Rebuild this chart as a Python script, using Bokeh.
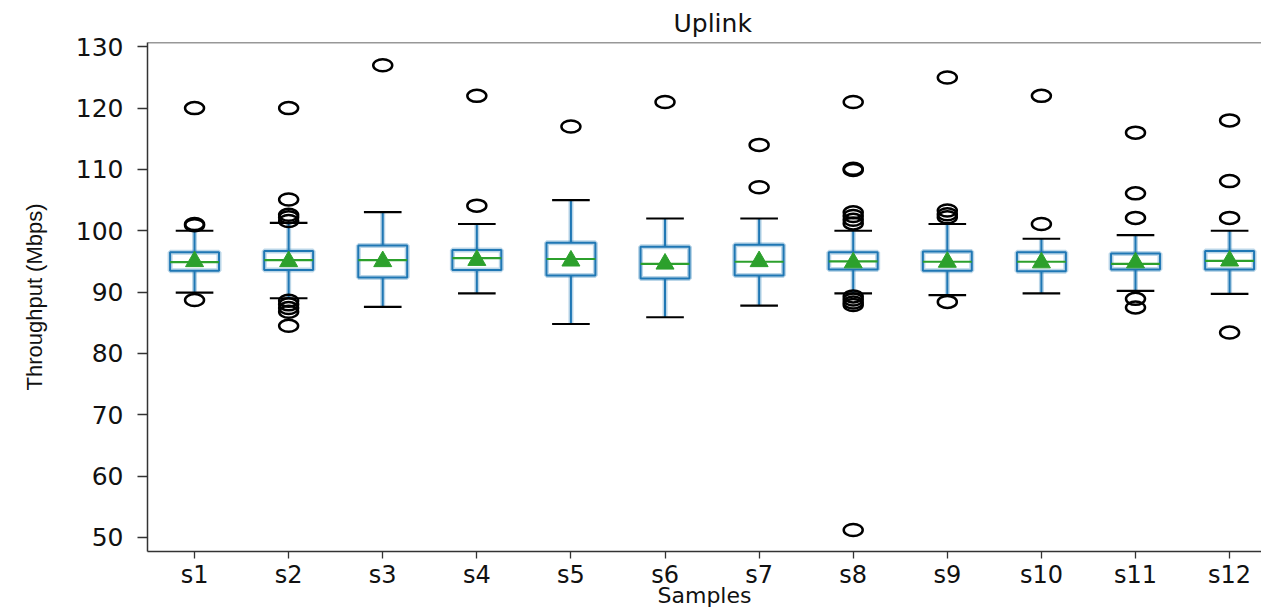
from bokeh.plotting import figure
from bokeh.models import FixedTicker, Span, ColumnDataSource
from bokeh.embed import file_html
from bokeh.resources import INLINE

# ---------------- data ----------------
categories = ["s1", "s2", "s3", "s4", "s5", "s6", "s7", "s8", "s9", "s10", "s11", "s12"]
q1 = [93.5, 93.6, 92.4, 93.6, 92.7, 92.2, 92.7, 93.7, 93.5, 93.4, 93.7, 93.7]
q3 = [96.5, 96.7, 97.6, 96.85, 98.05, 97.4, 97.7, 96.5, 96.6, 96.5, 96.3, 96.7]
medians = [94.9, 95.2, 95.2, 95.55, 95.4, 94.6, 94.95, 95.0, 94.95, 94.95, 94.6, 95.1]
means = [95.0, 95.0, 95.0, 95.2, 95.1, 94.6, 95.0, 94.8, 94.9, 94.8, 94.8, 95.1]
whisker_low = [89.9, 89.0, 87.6, 89.8, 84.8, 85.9, 87.8, 89.8, 89.5, 89.8, 90.2, 89.7]
whisker_high = [100.0, 101.3, 103.05, 101.1, 105.0, 102.0, 102.0, 100.0, 101.1, 98.7, 99.3, 100.0]
outliers = [
    [120, 101.1, 100.9, 88.7],
    [120, 105.1, 102.6, 102.2, 101.6, 88.6, 88.0, 87.4, 86.8, 84.5],
    [127],
    [122, 104.1],
    [117],
    [121],
    [114, 107.1],
    [121, 110.1, 109.9, 103.0, 102.4, 101.8, 101.2, 89.3, 88.8, 88.3, 87.9, 51.2],
    [125, 103.3, 102.7, 102.2, 88.4],
    [122, 101.1],
    [116, 106.1, 102.1, 88.9, 87.5],
    [118, 108.1, 102.1, 83.4],
]
y_ticks = [50, 60, 70, 80, 90, 100, 110, 120, 130]
title_text = "Uplink"
x_label = "Samples"
y_label = "Throughput (Mbps)"

# ---------------- derived sources ----------------
BLUE = "#1f77b4"
GREEN = "#2ca02c"
BOX_HALF = 0.26
CAP_HALF = 0.20

xs = list(range(1, len(categories) + 1))
src = ColumnDataSource(dict(
    x=xs,
    left=[x - BOX_HALF for x in xs],
    right=[x + BOX_HALF for x in xs],
    cap_l=[x - CAP_HALF for x in xs],
    cap_r=[x + CAP_HALF for x in xs],
    q1=q1, q3=q3, med=medians, mean=means, lo=whisker_low, hi=whisker_high,
))
ox, oy = [], []
for x, vals in zip(xs, outliers):
    for v in vals:
        ox.append(x)
        oy.append(v)

Y_START, Y_END = 47.7, 130.7
X_START, X_END = 0.5, 12.339

p = figure(width=1261, height=610, output_backend="svg", toolbar_location=None,
           x_range=(X_START, X_END), y_range=(Y_START, Y_END),
           min_border_left=147, min_border_right=0, min_border_top=42, min_border_bottom=59)
p.outline_line_color = None
p.xgrid.visible = False
p.ygrid.visible = False
p.background_fill_color = "white"

# title
p.title.text = title_text
p.title.text_font = "DejaVu Sans"
p.title.text_font_size = "25px"
p.title.text_font_style = "normal"
p.title.text_color = "#111111"
p.title.align = "left"
p.title.offset = 526
p.title.standoff = 10

# whiskers (halo + core)
for lw, a in ((5, 0.3), (2, 1.0)):
    p.segment(x0="x", y0="q3", x1="x", y1="hi", source=src, line_color=BLUE, line_width=lw, line_alpha=a)
    p.segment(x0="x", y0="q1", x1="x", y1="lo", source=src, line_color=BLUE, line_width=lw, line_alpha=a)

# boxes
p.quad(left="left", right="right", bottom="q1", top="q3", source=src,
       fill_color="white", line_color=BLUE, line_width=5, line_alpha=0.3)
p.quad(left="left", right="right", bottom="q1", top="q3", source=src,
       fill_color=None, line_color=BLUE, line_width=2)

# medians
p.segment(x0="left", y0="med", x1="right", y1="med", source=src, line_color=GREEN, line_width=2.2)

# caps
p.segment(x0="cap_l", y0="hi", x1="cap_r", y1="hi", source=src, line_color="black", line_width=2.2)
p.segment(x0="cap_l", y0="lo", x1="cap_r", y1="lo", source=src, line_color="black", line_width=2.2)

# means
p.scatter(x="x", y="mean", source=src, marker="triangle", size=18, fill_color=GREEN, line_color=GREEN)

# outliers
p.ellipse(x=ox, y=oy, width=19, height=12, width_units="screen", height_units="screen",
          fill_color=None, line_color="black", line_width=2.5)

# top frame line
p.add_layout(Span(location=Y_END, dimension="width", line_color="#333333", line_width=1.5))

# axes
xa = p.xaxis[0]
xa.ticker = FixedTicker(ticks=xs)
xa.major_label_overrides = {x: c for x, c in zip(xs, categories)}
xa.minor_tick_line_color = None
xa.major_tick_out = 7
xa.major_tick_in = 0
xa.major_label_standoff = 2
xa.major_label_text_font = "DejaVu Sans"
xa.major_label_text_font_size = "24px"
xa.major_label_text_color = "#111111"
xa.axis_line_color = "#333333"
xa.axis_line_width = 1.5
xa.major_tick_line_color = "#333333"
xa.major_tick_line_width = 1.3
xa.axis_label = x_label
xa.axis_label_text_font = "DejaVu Sans"
xa.axis_label_text_font_size = "22px"
xa.axis_label_text_font_style = "normal"
xa.axis_label_text_color = "#111111"
xa.axis_label_standoff = -9

ya = p.yaxis[0]
ya.ticker = FixedTicker(ticks=y_ticks)
ya.minor_tick_line_color = None
ya.major_tick_out = 10
ya.major_tick_in = 0
ya.major_label_standoff = 14
ya.major_label_text_font = "DejaVu Sans"
ya.major_label_text_font_size = "25px"
ya.major_label_text_color = "#111111"
ya.axis_line_color = "#333333"
ya.axis_line_width = 1.5
ya.major_tick_line_color = "#333333"
ya.major_tick_line_width = 1.3
ya.axis_label = y_label
ya.axis_label_text_font = "Liberation Sans"
ya.axis_label_text_font_size = "22px"
ya.axis_label_text_font_style = "normal"
ya.axis_label_text_color = "#111111"
ya.axis_label_standoff = 26

open("out.html", "w").write(file_html(p, INLINE))
